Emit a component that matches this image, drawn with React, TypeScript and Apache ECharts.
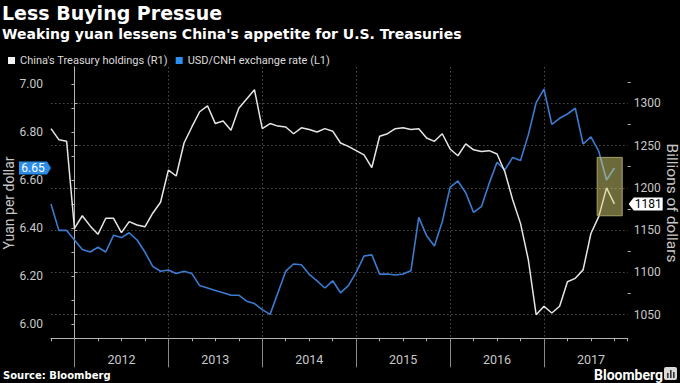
import React, { useEffect, useRef } from 'react';
import * as echarts from 'echarts';

// ---------- data ----------
const months = [
  '2011-09', '2011-10', '2011-11', '2011-12',
  '2012-01', '2012-02', '2012-03', '2012-04', '2012-05', '2012-06', '2012-07', '2012-08', '2012-09', '2012-10', '2012-11', '2012-12',
  '2013-01', '2013-02', '2013-03', '2013-04', '2013-05', '2013-06', '2013-07', '2013-08', '2013-09', '2013-10', '2013-11', '2013-12',
  '2014-01', '2014-02', '2014-03', '2014-04', '2014-05', '2014-06', '2014-07', '2014-08', '2014-09', '2014-10', '2014-11', '2014-12',
  '2015-01', '2015-02', '2015-03', '2015-04', '2015-05', '2015-06', '2015-07', '2015-08', '2015-09', '2015-10', '2015-11', '2015-12',
  '2016-01', '2016-02', '2016-03', '2016-04', '2016-05', '2016-06', '2016-07', '2016-08', '2016-09', '2016-10', '2016-11', '2016-12',
  '2017-01', '2017-02', '2017-03', '2017-04', '2017-05', '2017-06', '2017-07', '2017-08', '2017-09',
];

// China's Treasury holdings, billions of dollars (right axis)
const holdings = [
  1270, 1257, 1255, 1152,
  1167, 1155, 1145, 1164, 1164, 1147, 1160, 1156, 1154, 1170, 1183, 1221,
  1214, 1253, 1272, 1290, 1297, 1276, 1279, 1268, 1294, 1305, 1316, 1270,
  1276, 1273, 1272, 1264, 1271, 1269, 1266, 1270, 1267, 1253, 1249, 1244,
  1239, 1224, 1261, 1264, 1270, 1271, 1269, 1270, 1259, 1255, 1264, 1246,
  1238, 1252, 1245, 1243, 1244, 1240, 1219, 1186, 1158, 1115, 1050, 1060,
  1052, 1060, 1089, 1093, 1103, 1146, 1166, 1200, 1181,
];

// USD/CNH exchange rate, yuan per dollar (left axis)
const usdCnh = [
  6.50, 6.39, 6.39, 6.35,
  6.31, 6.30, 6.32, 6.30, 6.37, 6.36, 6.38, 6.35, 6.30, 6.24, 6.22, 6.225,
  6.21, 6.22, 6.21, 6.16, 6.15, 6.14, 6.13, 6.12, 6.12, 6.095, 6.085, 6.06,
  6.04, 6.13, 6.22, 6.25, 6.247, 6.207, 6.18, 6.15, 6.18, 6.13, 6.16, 6.215,
  6.283, 6.288, 6.208, 6.208, 6.204, 6.208, 6.222, 6.444, 6.368, 6.325, 6.426, 6.569,
  6.596, 6.547, 6.465, 6.489, 6.586, 6.674, 6.642, 6.694, 6.681, 6.788, 6.922, 6.979,
  6.832, 6.857, 6.875, 6.899, 6.75, 6.78, 6.72, 6.60, 6.65,
];

const yearLabels = ['2012', '2013', '2014', '2015', '2016', '2017'];
const leftTicks = [6.0, 6.1, 6.2, 6.3, 6.4, 6.5, 6.6, 6.7, 6.8, 6.9, 7.0];
const leftLabels = [6.0, 6.2, 6.4, 6.6, 6.8, 7.0];
const rightLabels = [1050, 1100, 1150, 1200, 1250, 1300];
const rightMinorTicks = [1075, 1125, 1175, 1225, 1275, 1325];
// highlighted region (months since Jan 2012 / billions of dollars)
const highlightX = [66.8, 70.0];
const highlightY = [1167, 1236];

const holdingsName = "China's Treasury holdings (R1)";
const rateName = 'USD/CNH exchange rate (L1)';

// ---------- helpers ----------
// month-end position, in months since start of 2012
const monthX = (s: string) => {
  const [y, m] = s.split('-').map(Number);
  return (y - 2012) * 12 + m;
};
const yearStart = (label: string) => (Number(label) - 2012) * 12;

const X_MIN = -3;
const X_MAX = 70.7;
const L_MIN = 5.9404;
const L_MAX = 7.0708;
const R_MIN = 1022.1;
const R_MAX = 1342.9;

const AXIS_COLOR = '#b4b4b4';
const LABEL_COLOR = '#c8c8c8';
const GRID_LINE = { show: true, lineStyle: { color: '#4c4c4c', type: [1.5, 2.5] as any, width: 1 } };
const WHITE = '#e6e6e6';
const BLUE = '#3b7bd0';
const TAG_BLUE = '#2b8be8';

export default function App() {
  const ref = useRef<HTMLDivElement>(null);

  useEffect(() => {
    document.body.style.margin = '0';
    document.body.style.background = '#000';
    const chart = echarts.init(ref.current!, undefined, { renderer: 'svg', width: 680, height: 383 });

    const labelFont = { color: LABEL_COLOR, fontSize: 12, fontFamily: 'Roboto' };

    const option: any = {
      animation: false,
      backgroundColor: '#000',
      textStyle: { fontFamily: 'Roboto' },
      grid: { left: 51, right: 52.3, top: 67, bottom: 44.7, containLabel: false, outerBoundsMode: 'none' },
      legend: {
        left: 3,
        top: 50,
        itemWidth: 7,
        itemHeight: 7,
        itemGap: 8,
        icon: 'rect',
        selectedMode: false,
        textStyle: { color: '#dcdcdc', fontSize: 11, fontFamily: 'Roboto' },
        data: [
          { name: holdingsName, itemStyle: { color: '#f2f2f2' } },
          { name: rateName, itemStyle: { color: '#2f8ff0' } },
        ],
      },
      xAxis: [
        {
          type: 'value', min: X_MIN, max: X_MAX, interval: 3, position: 'bottom',
          axisLine: { show: true, lineStyle: { color: AXIS_COLOR, width: 1 } },
          axisTick: { show: true, length: 3, lineStyle: { color: AXIS_COLOR } },
          axisLabel: { show: false },
          splitLine: { show: false },
        },
        {
          type: 'value', min: X_MIN, max: X_MAX, position: 'bottom',
          axisLine: { show: false },
          axisTick: { show: true, length: 29, customValues: yearLabels.map(yearStart), lineStyle: { color: '#8a8a8a' } },
          axisLabel: {
            show: true, margin: 15, ...labelFont, fontSize: 12.5,
            customValues: yearLabels.map((y) => yearStart(y) + 6),
            formatter: (v: number) => yearLabels[Math.round((v - 6) / 12)] ?? '',
          },
          splitLine: GRID_LINE,
        },
      ],
      yAxis: [
        {
          type: 'value', min: L_MIN, max: L_MAX, position: 'left',
          axisLine: { show: true, lineStyle: { color: AXIS_COLOR } },
          axisTick: { show: true, length: 3, customValues: leftTicks, lineStyle: { color: AXIS_COLOR } },
          axisLabel: { show: true, margin: 8, ...labelFont, customValues: leftLabels, formatter: (v: number) => v.toFixed(2) },
          splitLine: { show: false },
        },
        {
          type: 'value', min: R_MIN, max: R_MAX, position: 'right',
          axisLine: { show: true, lineStyle: { color: AXIS_COLOR } },
          axisTick: { show: true, length: 3, customValues: rightLabels, lineStyle: { color: AXIS_COLOR } },
          axisLabel: { show: true, margin: 6, ...labelFont, customValues: rightLabels, formatter: (v: number) => String(v) },
          splitLine: GRID_LINE,
        },
        {
          type: 'value', min: R_MIN, max: R_MAX, position: 'right',
          axisLine: { show: false },
          axisTick: { show: true, length: 3, customValues: rightMinorTicks, lineStyle: { color: AXIS_COLOR } },
          axisLabel: { show: false },
          splitLine: { show: false },
        },
      ],
      series: [
        {
          name: rateName, type: 'line', xAxisIndex: 0, yAxisIndex: 0,
          data: months.map((m, i) => [monthX(m), usdCnh[i]]),
          symbol: 'none', showSymbol: false,
          lineStyle: { color: BLUE, width: 1.6 }, itemStyle: { color: BLUE }, z: 2,
        },
        {
          name: holdingsName, type: 'line', xAxisIndex: 0, yAxisIndex: 1,
          data: months.map((m, i) => [monthX(m), holdings[i]]),
          symbol: 'none', showSymbol: false,
          lineStyle: { color: WHITE, width: 1.5 }, itemStyle: { color: WHITE }, z: 3,
        },
        {
          name: 'highlight', type: 'line', xAxisIndex: 0, yAxisIndex: 1, data: [], z: 10,
          markArea: {
            silent: true, z: 10,
            itemStyle: { color: 'rgba(215,210,115,0.5)', borderColor: '#a6a464', borderWidth: 1 },
            data: [[{ xAxis: highlightX[0], yAxis: highlightY[1] }, { xAxis: highlightX[1], yAxis: highlightY[0] }]],
          },
        },
      ],
    };

    chart.setOption(option);

    const lastRate = usdCnh[usdCnh.length - 1];
    const lastHold = holdings[holdings.length - 1];
    const yRate = chart.convertToPixel({ yAxisIndex: 0 } as any, lastRate) as number;
    const yHold = chart.convertToPixel({ yAxisIndex: 1 } as any, lastHold) as number;
    const xL = chart.convertToPixel({ xAxisIndex: 0 } as any, X_MIN) as number;
    const xR = chart.convertToPixel({ xAxisIndex: 0 } as any, X_MAX) as number;

    const txt = (id: string, x: number, y: number, text: string, font: string, fill: string, align = 'left', rotation = 0) => ({
      id, type: 'text', x, y, rotation, z: 100,
      style: { text, font, fill, align, textAlign: align, verticalAlign: 'middle', textVerticalAlign: 'middle' },
    });

    chart.setOption({
      graphic: [
        txt('title', 2, 13, 'Less Buying Pressue', 'bold 19px "DejaVu Sans"', '#ffffff'),
        txt('subtitle', 2, 34, "Weaking yuan lessens China's appetite for U.S. Treasuries", 'bold 14px "DejaVu Sans"', '#ffffff'),
        txt('yname', 9, 203, 'Yuan per dollar', '14px Roboto', LABEL_COLOR, 'center', Math.PI / 2),
        txt('rname', 672, 203, 'Billions of dollars', '15.5px Roboto', LABEL_COLOR, 'center', -Math.PI / 2),
        txt('source', 3, 375.5, 'Source: Bloomberg', 'bold 10px "DejaVu Sans"', '#ffffff'),
        txt('logo', 594, 374.5, 'Bloomberg', 'bold 14px Roboto', '#ffffff'),
        { id: 'icon', type: 'rect', x: 664, y: 367, z: 100, shape: { x: 0, y: 0, width: 13, height: 13, r: 2 }, style: { fill: '#d8d8d8' } },
        { id: 'icon1', type: 'rect', x: 667, y: 373, z: 101, shape: { x: 0, y: 0, width: 1.6, height: 5 }, style: { fill: '#333' } },
        { id: 'icon2', type: 'rect', x: 670, y: 370, z: 101, shape: { x: 0, y: 0, width: 1.6, height: 8 }, style: { fill: '#333' } },
        { id: 'icon3', type: 'rect', x: 673, y: 372, z: 101, shape: { x: 0, y: 0, width: 1.6, height: 6 }, style: { fill: '#333' } },
        {
          id: 'tagL', type: 'polygon', z: 100,
          shape: { points: [[19, yRate - 6.5], [xL - 4, yRate - 6.5], [xL, yRate], [xL - 4, yRate + 6.5], [19, yRate + 6.5]] },
          style: { fill: TAG_BLUE },
        },
        txt('tagLText', 33, yRate + 0.5, lastRate.toFixed(2), '12px Roboto', '#ffffff', 'center'),
        {
          id: 'tagR', type: 'polygon', z: 100,
          shape: { points: [[xR + 1, yHold], [xR + 6, yHold - 6.5], [xR + 35, yHold - 6.5], [xR + 35, yHold + 6.5], [xR + 6, yHold + 6.5]] },
          style: { fill: '#ffffff' },
        },
        txt('tagRText', xR + 20.5, yHold + 0.5, String(lastHold), '12px Roboto', '#000000', 'center'),
      ],
    });

    return () => chart.dispose();
  }, []);

  return <div ref={ref} style={{ position: 'fixed', left: 0, top: 0, width: 680, height: 383, background: '#000' }} />;
}
